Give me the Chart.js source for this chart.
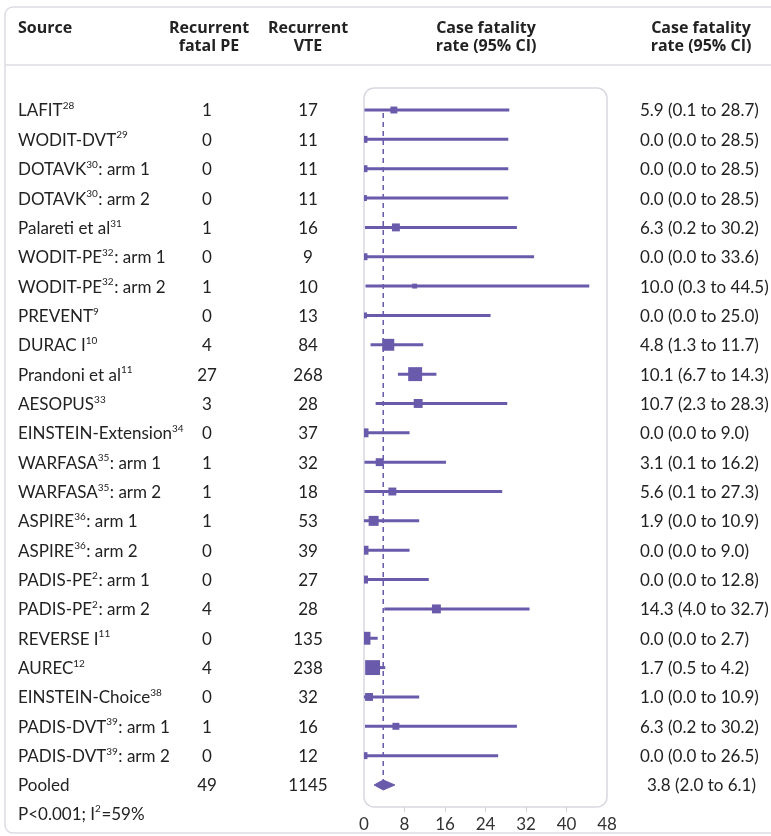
<!DOCTYPE html>
<html>
<head>
<meta charset="utf-8">
<script src="https://cdn.jsdelivr.net/npm/chart.js@4.4.1/dist/chart.umd.min.js"></script>
<style>
  html, body { margin: 0; padding: 0; background: #fff; }
  canvas { display: block; }
</style>
</head>
<body>
<canvas id="forest" width="771" height="836"></canvas>
<script>
// study labels: name, reference (superscript), suffix
const studyNames = ['LAFIT', 'WODIT-DVT', 'DOTAVK', 'DOTAVK', 'Palareti et al', 'WODIT-PE', 'WODIT-PE',
  'PREVENT', 'DURAC I', 'Prandoni et al', 'AESOPUS', 'EINSTEIN-Extension', 'WARFASA', 'WARFASA',
  'ASPIRE', 'ASPIRE', 'PADIS-PE', 'PADIS-PE', 'REVERSE I', 'AUREC', 'EINSTEIN-Choice', 'PADIS-DVT', 'PADIS-DVT'];
const studyRefs = ['28', '29', '30', '30', '31', '32', '32', '9', '10', '11', '33', '34', '35', '35',
  '36', '36', '2', '2', '11', '12', '38', '39', '39'];
const studyArms = ['', '', ': arm 1', ': arm 2', '', ': arm 1', ': arm 2', '', '', '', '', '', ': arm 1', ': arm 2',
  ': arm 1', ': arm 2', ': arm 1', ': arm 2', '', '', '', ': arm 1', ': arm 2'];

const fatalPE = [1, 0, 0, 0, 1, 0, 1, 0, 4, 27, 3, 0, 1, 1, 1, 0, 0, 4, 0, 4, 0, 1, 0];
const recurrentVTE = [17, 11, 11, 11, 16, 9, 10, 13, 84, 268, 28, 37, 32, 18, 53, 39, 27, 28, 135, 238, 32, 16, 12];
const fatalityRate = [5.9, 0.0, 0.0, 0.0, 6.3, 0.0, 10.0, 0.0, 4.8, 10.1, 10.7, 0.0, 3.1, 5.6, 1.9, 0.0, 0.0, 14.3, 0.0, 1.7, 1.0, 6.3, 0.0];
const ciLower = [0.1, 0.0, 0.0, 0.0, 0.2, 0.0, 0.3, 0.0, 1.3, 6.7, 2.3, 0.0, 0.1, 0.1, 0.0, 0.0, 0.0, 4.0, 0.0, 0.5, 0.0, 0.2, 0.0];
const ciUpper = [28.7, 28.5, 28.5, 28.5, 30.2, 33.6, 44.5, 25.0, 11.7, 14.3, 28.3, 9.0, 16.2, 27.3, 10.9, 9.0, 12.8, 32.7, 2.7, 4.2, 10.9, 30.2, 26.5];
// study weights (%)
const weights = [2.6, 2.6, 2.6, 1.9, 3.4, 2.6, 1.3, 1.9, 7.7, 10.5, 4.3, 4.3, 3.4, 3.4, 5.4, 4.3, 3.4, 4.3, 9.0, 12.0, 3.4, 2.6, 2.6];

const pooledFatal = 49;
const pooledVTE = 1145;
const pooledRate = 3.8;
const pooledLower = 2.0;
const pooledUpper = 6.1;
const heterogeneity = ['P<0.001; I', '2', '=59%'];

const xTicks = [0, 8, 16, 24, 32, 40, 48];

const PURPLE = '#6a5aab';
const TEXT = '#222';
const BODY_FONT = 'Lato, sans-serif';
const HEAD_FONT = '"Open Sans", sans-serif';

const rowIndex = studyNames.map((_, i) => i);
const pooledRow = studyNames.length;
const hetRow = pooledRow + 1;

const fmt = (v) => v.toFixed(1);
const squareSide = (w) => 4.3 * Math.sqrt(w);

// CI whiskers, one small line per study
const ciDatasets = rowIndex.map(i => ({
  type: 'line',
  data: [{ x: ciLower[i], y: i }, { x: ciUpper[i], y: i }],
  borderColor: PURPLE,
  borderWidth: 3,
  pointRadius: 0,
  order: 2
}));

const pointDataset = {
  type: 'scatter',
  data: rowIndex.map(i => ({ x: fatalityRate[i], y: i })),
  pointStyle: 'rect',
  pointRadius: weights.map(w => squareSide(w) / Math.SQRT2),
  backgroundColor: PURPLE,
  borderColor: PURPLE,
  borderWidth: 0,
  order: 1
};

const diamondDataset = {
  type: 'line',
  data: [
    { x: pooledLower, y: pooledRow },
    { x: pooledRate, y: pooledRow - 0.17 },
    { x: pooledUpper, y: pooledRow },
    { x: pooledRate, y: pooledRow + 0.17 },
    { x: pooledLower, y: pooledRow }
  ],
  borderColor: PURPLE,
  backgroundColor: PURPLE,
  borderWidth: 1,
  fill: 'shape',
  pointRadius: 0,
  order: 1
};

const pooledLine = {
  type: 'line',
  data: [{ x: pooledRate, y: 0.1 }, { x: pooledRate, y: pooledRow - 0.15 }],
  borderColor: PURPLE,
  borderWidth: 1.5,
  borderDash: [5, 4],
  pointRadius: 0,
  order: 3
};

function roundRect(ctx, x, y, w, h, r) {
  ctx.beginPath();
  ctx.moveTo(x + r, y);
  ctx.lineTo(x + w - r, y);
  ctx.arcTo(x + w, y, x + w, y + r, r);
  ctx.lineTo(x + w, y + h - r);
  ctx.arcTo(x + w, y + h, x + w - r, y + h, r);
  ctx.lineTo(x + r, y + h);
  ctx.arcTo(x, y + h, x, y + h - r, r);
  ctx.lineTo(x, y + r);
  ctx.arcTo(x, y, x + r, y, r);
  ctx.closePath();
}

// text with a raised reference number in the middle
function supText(ctx, x, y, parts, size) {
  let cx = x;
  parts.forEach((p, k) => {
    if (!p) return;
    const isSup = k % 2 === 1;
    ctx.font = (isSup ? Math.round(size * 0.6) : size) + 'px ' + BODY_FONT;
    ctx.fillText(p, cx, isSup ? y - size * 0.3 : y);
    cx += ctx.measureText(p).width + (isSup ? 0.5 : 0);
  });
}

const framePlugin = {
  id: 'frame',
  beforeDraw(chart) {
    const ctx = chart.ctx;
    const area = chart.chartArea;
    ctx.save();
    ctx.fillStyle = '#fff';
    ctx.fillRect(0, 0, chart.width, chart.height);
    ctx.strokeStyle = '#dcdce3';
    ctx.lineWidth = 1.5;
    roundRect(ctx, 5, 7, 790, 826, 8);
    ctx.stroke();
    ctx.beginPath();
    ctx.moveTo(5, 65);
    ctx.lineTo(chart.width, 65);
    ctx.stroke();
    ctx.strokeStyle = '#d8d8e0';
    roundRect(ctx, area.left, area.top, area.right - area.left, area.bottom - area.top, 10);
    ctx.stroke();
    ctx.restore();
  },
  afterDraw(chart) {
    const ctx = chart.ctx;
    const y = chart.scales.y;
    ctx.save();
    ctx.fillStyle = TEXT;
    ctx.textBaseline = 'middle';

    // header
    ctx.font = 'bold 16px ' + HEAD_FONT;
    ctx.textAlign = 'left';
    ctx.fillText('Source', 18, 28);
    ctx.textAlign = 'center';
    ctx.fillText('Recurrent', 209, 28);
    ctx.fillText('fatal PE', 209, 46);
    ctx.fillText('Recurrent', 308, 28);
    ctx.fillText('VTE', 308, 46);
    ctx.fillText('Case fatality', 486, 28);
    ctx.fillText('rate (95% CI)', 486, 46);
    ctx.fillText('Case fatality', 701, 28);
    ctx.fillText('rate (95% CI)', 701, 46);

    // rows
    const size = 17;
    rowIndex.forEach(i => {
      const py = y.getPixelForValue(i) + 1;
      ctx.textAlign = 'left';
      supText(ctx, 18, py, [studyNames[i], studyRefs[i], studyArms[i]], size);
      ctx.font = size + 'px ' + BODY_FONT;
      ctx.textAlign = 'center';
      ctx.fillText(String(fatalPE[i]), 207, py);
      ctx.fillText(String(recurrentVTE[i]), 308, py);
      ctx.textAlign = 'left';
      ctx.fillText(fmt(fatalityRate[i]) + ' (' + fmt(ciLower[i]) + ' to ' + fmt(ciUpper[i]) + ')', 640, py);
    });

    const pp = y.getPixelForValue(pooledRow) + 1;
    ctx.font = size + 'px ' + BODY_FONT;
    ctx.textAlign = 'left';
    ctx.fillText('Pooled', 18, pp);
    ctx.textAlign = 'center';
    ctx.fillText(String(pooledFatal), 207, pp);
    ctx.fillText(String(pooledVTE), 308, pp);
    ctx.textAlign = 'left';
    ctx.fillText(fmt(pooledRate) + ' (' + fmt(pooledLower) + ' to ' + fmt(pooledUpper) + ')', 647, pp);

    supText(ctx, 18, y.getPixelForValue(hetRow), heterogeneity, size);
    ctx.restore();
  }
};

new Chart(document.getElementById('forest'), {
  data: { datasets: [...ciDatasets, pointDataset, diamondDataset, pooledLine] },
  options: {
    responsive: false,
    animation: false,
    events: [],
    layout: { padding: { left: 364, right: 164, top: 88, bottom: 0 } },
    plugins: { legend: { display: false }, tooltip: { enabled: false } },
    scales: {
      x: {
        type: 'linear',
        min: xTicks[0],
        max: xTicks[xTicks.length - 1],
        afterBuildTicks: (scale) => { scale.ticks = xTicks.map(v => ({ value: v })); },
        afterFit: (scale) => { scale.height = 29; },
        border: { display: false },
        grid: {
          drawOnChartArea: false,
          drawTicks: true,
          tickLength: 5,
          color: (c) => (c.index === 0 || c.index === xTicks.length - 1) ? 'rgba(0,0,0,0)' : '#d0d0d8'
        },
        ticks: { color: '#333', padding: 2, font: { family: BODY_FONT, size: 17 } }
      },
      y: {
        type: 'linear',
        reverse: true,
        min: -0.75,
        max: 23.75,
        display: false
      }
    }
  },
  plugins: [framePlugin]
});
</script>
</body>
</html>
